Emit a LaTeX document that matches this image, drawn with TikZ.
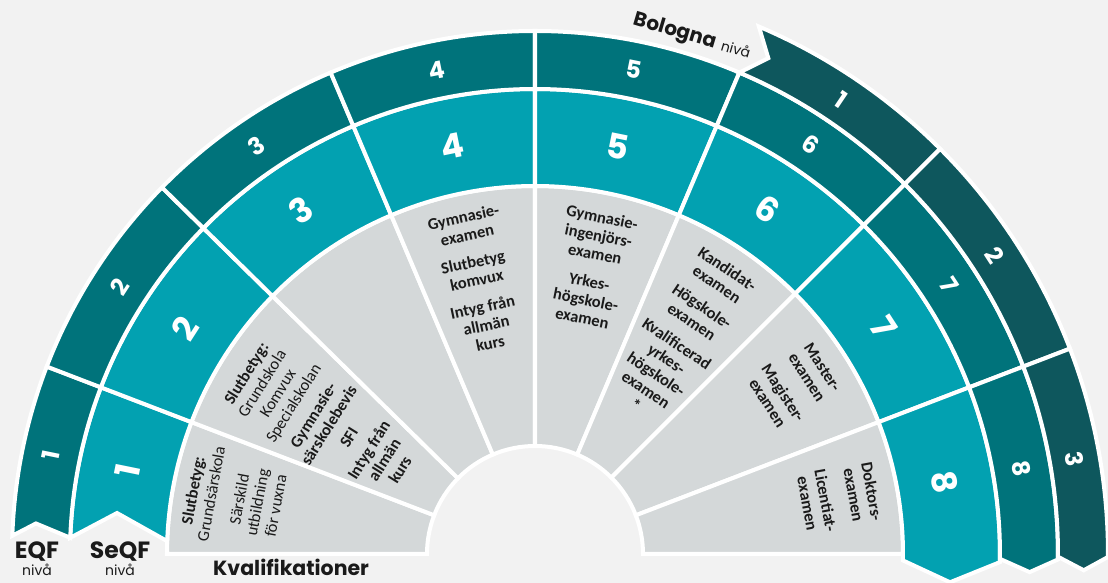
\documentclass[tikz,border=0pt]{standalone}
\usepackage{fontspec}
\setmainfont{Carlito}
\newfontfamily\numfont{Poppins}
\usetikzlibrary{positioning}
\definecolor{paper}{HTML}{F2F2F2}
\definecolor{qualgray}{HTML}{D4D8D9}
\definecolor{seqfteal}{HTML}{02A1B1}
\definecolor{eqfteal}{HTML}{00737B}
\definecolor{bolteal}{HTML}{0E575D}
\definecolor{ink}{HTML}{1A1A1A}
\def\ringcell#1#2#3#4#5{\filldraw[#5] (#1:#3) arc[start angle=#1, end angle=#2, radius=#3] -- (#2:#4) arc[start angle=#2, end angle=#1, radius=#4] -- cycle;}
\def\rg#1{{\mdseries #1}}

\begin{document}
\begin{tikzpicture}[x=1pt, y=1pt,
ringline/.style={draw=white, line width=4pt},
qualcell/.style={ringline, fill=qualgray},
seqfcell/.style={ringline, fill=seqfteal},
eqfcell/.style={ringline, fill=eqfteal},
bolcell/.style={ringline, fill=bolteal},
qual/.style={text=ink, align=center, inner sep=0pt, font=\bfseries\fontsize{16.5}{18.5}\selectfont},
seqfnum/.style={text=white, inner sep=0pt, font=\numfont\bfseries\fontsize{34}{34}\selectfont},
eqfnum/.style={text=white, inner sep=0pt, font=\numfont\bfseries\fontsize{24}{24}\selectfont},
levelname/.style={text=ink, inner sep=0pt, font=\numfont\bfseries\fontsize{23.5}{23.5}\selectfont},
nivname/.style={text=ink, inner sep=0pt, font=\numfont\fontsize{14}{14}\selectfont}
]

\fill[paper] (-535,-29) rectangle (573,554);
\useasboundingbox (-535,-29) rectangle (573,554);

% Kvalifikationer
\ringcell{159}{180}{368pt}{108pt}{qualcell}
\ringcell{135.5}{159}{368pt}{108pt}{qualcell}
\ringcell{113}{135.5}{368pt}{108pt}{qualcell}
\ringcell{90}{113}{368pt}{108pt}{qualcell}
\ringcell{67}{90}{368pt}{108pt}{qualcell}
\ringcell{45}{67}{368pt}{108pt}{qualcell}
\ringcell{21}{45}{368pt}{108pt}{qualcell}
\ringcell{0}{21}{368pt}{108pt}{qualcell}

% SeQF
\filldraw[seqfcell] (159:465pt) arc[start angle=159, end angle=178, radius=465pt] -- (174.4:420pt) -- (178:368pt) arc[start angle=178, end angle=159, radius=368pt] -- cycle;
\ringcell{135.5}{159}{465pt}{368pt}{seqfcell}
\ringcell{113}{135.5}{465pt}{368pt}{seqfcell}
\ringcell{90}{113}{465pt}{368pt}{seqfcell}
\ringcell{67}{90}{465pt}{368pt}{seqfcell}
\ringcell{45}{67}{465pt}{368pt}{seqfcell}
\ringcell{21}{45}{465pt}{368pt}{seqfcell}
\filldraw[seqfcell] (21:465pt) arc[start angle=21, end angle=-1, radius=465pt] -- (-3.9:416pt) -- (-1:368pt) arc[start angle=-1, end angle=21, radius=368pt] -- cycle;

% EQF
\filldraw[eqfcell] (159:523pt) arc[start angle=159, end angle=178, radius=523pt] -- (176.5:500pt) -- (178:465pt) arc[start angle=178, end angle=159, radius=465pt] -- cycle;
\ringcell{135.5}{159}{523pt}{465pt}{eqfcell}
\ringcell{113}{135.5}{523pt}{465pt}{eqfcell}
\ringcell{90}{113}{523pt}{465pt}{eqfcell}
\ringcell{67}{90}{523pt}{465pt}{eqfcell}
\ringcell{45}{67}{523pt}{465pt}{eqfcell}
\ringcell{21}{45}{523pt}{465pt}{eqfcell}
\filldraw[eqfcell] (21:523pt) arc[start angle=21, end angle=-0.6, radius=523pt] -- (-2.1:495pt) -- (-0.6:465pt) arc[start angle=-0.6, end angle=21, radius=465pt] -- cycle;

% Bologna
\filldraw[bolcell] (67:573pt) -- (64.8:548pt) -- (67:523pt) arc[start angle=67, end angle=45, radius=523pt] -- (45:573pt) arc[start angle=45, end angle=67, radius=573pt] -- cycle;
\ringcell{21}{45}{573pt}{523pt}{bolcell}
\filldraw[bolcell] (21:573pt) arc[start angle=21, end angle=-0.3, radius=573pt] -- (-1.7:549pt) -- (-0.3:523pt) arc[start angle=-0.3, end angle=21, radius=523pt] -- cycle;

% level numbers
\node (seqf1) [seqfnum, rotate=78.5] at (168.5:416pt) {1};
\node (seqf2) [seqfnum, rotate=57.25] at (147.25:416pt) {2};
\node (seqf3) [seqfnum, rotate=34.25] at (124.25:416pt) {3};
\node (seqf4) [seqfnum, rotate=11.5] at (101.5:416pt) {4};
\node (seqf5) [seqfnum, rotate=-11.5] at (78.5:416pt) {5};
\node (seqf6) [seqfnum, rotate=-34] at (56:416pt) {6};
\node (seqf7) [seqfnum, rotate=-57] at (33:416pt) {7};
\node (seqf8) [seqfnum, rotate=-80] at (10:416pt) {8};

\node (eqf1) [eqfnum, rotate=78.5] at (168.5:494pt) {1};
\node (eqf2) [eqfnum, rotate=57.25] at (147.25:494pt) {2};
\node (eqf3) [eqfnum, rotate=34.25] at (124.25:494pt) {3};
\node (eqf4) [eqfnum, rotate=11.5] at (101.5:494pt) {4};
\node (eqf5) [eqfnum, rotate=-11.5] at (78.5:494pt) {5};
\node (eqf6) [eqfnum, rotate=-34] at (56:494pt) {6};
\node (eqf7) [eqfnum, rotate=-57] at (33:494pt) {7};
\node (eqf8) [eqfnum, rotate=-80] at (10:494pt) {8};

\node (bol1) [eqfnum, rotate=-34] at (56:548pt) {1};
\node (bol2) [eqfnum, rotate=-57] at (33:548pt) {2};
\node (bol3) [eqfnum, rotate=-80] at (10:548pt) {3};

% qualifications
\node (grundsar) [qual, rotate=79.5] at (169.5:306pt) {Slutbetyg:\\ \rg{Grundsärskola}\\[10pt] \rg{Särskild}\\ \rg{utbildning}\\ \rg{för vuxna}};
\node (grundsk) [qual, rotate=58] at (148:250pt) {Slutbetyg:\\ \rg{Grundskola}\\ \rg{Komvux}\\ \rg{Specialskolan}\\[5pt] Gymnasie-\\ särskolebevis\\[5pt] SFI\\[5pt] Intyg från\\ allmän\\ kurs};
\node (gymn) [qual, rotate=12] at (102:280pt) {Gymnasie-\\ examen\\[9pt] Slutbetyg\\ komvux\\[9pt] Intyg från\\ allmän\\ kurs};
\node (ingenj) [qual, rotate=-11.3] at (78.7:292pt) {Gymnasie-\\ ingenjörs-\\ examen\\[10pt] Yrkes-\\ högskole-\\ examen};
\node (kand) [qual, rotate=-34] at (56:262pt) {Kandidat-\\ examen\\[8pt] Högskole-\\ examen\\[8pt] Kvalificerad\\ yrkes-\\ högskole-\\ examen\\ *};
\node (master) [qual, rotate=-57] at (33:310pt) {Master-\\ examen\\[10pt] Magister-\\ examen};
\node (doktor) [qual, rotate=-79.5] at (10.5:310pt) {Doktors-\\ examen\\[10pt] Licentiat-\\ examen};

% level names
\node (eqf) [levelname] at (-498,2) {EQF};
\node (eqfniva) [nivname, below=2pt of eqf] {nivå};
\node (seqf) [levelname] at (-415,2) {SeQF};
\node (seqfniva) [nivname, below=2pt of seqf] {nivå};
\node (kval) [levelname, font=\numfont\bfseries\fontsize{20.5}{20.5}\selectfont, anchor=base west] at (-322,-22) {Kvalifikationer};
\node (bologna) [text=ink, inner sep=0pt, rotate=-16.5] at (157,517) {{\numfont\bfseries\fontsize{20}{20}\selectfont Bologna}\hspace{6pt}{\numfont\fontsize{14}{14}\selectfont nivå}};

\end{tikzpicture}
\end{document}
